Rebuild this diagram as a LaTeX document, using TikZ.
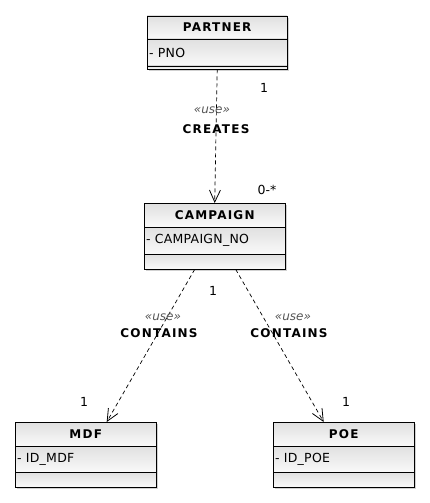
\documentclass[tikz,border=0pt]{standalone}
\usepackage{fontspec}
\setmainfont{DejaVu Sans}
\usetikzlibrary{arrows.meta,shadows,calc}
\definecolor{compTop}{HTML}{E0E0E0}
\definecolor{compBot}{HTML}{F9F9F9}
\definecolor{stereo}{HTML}{555555}
\newcommand\umlclass[9]{%
  \node[classframe, anchor=north west, minimum width=#4pt,
        minimum height=#5pt+#6pt+#7pt] (#1) at (#2,#3) {};
  \shade[top color=compTop, bottom color=compBot] (#2,#3) rectangle ++(#4,#5);
  \shade[top color=compTop, bottom color=compBot] (#2,#3+#5) rectangle ++(#4,#6);
  \shade[top color=compTop, bottom color=compBot] (#2,#3+#5+#6) rectangle ++(#4,#7);
  \draw[frameline] (#1.north west) rectangle (#1.south east);
  \draw[frameline] (#2,#3+#5) -- ++(#4,0);
  \draw[frameline] (#2,#3+#5+#6) -- ++(#4,0);
  \node[titletext] (#1-title) at ($(#1.north)+(0,#5/2)$) {#8};
  \node[attrtext, anchor=west] (#1-attr) at (#2+1,#3+#5+#6/2) {#9};
}
\tikzset{
  classframe/.style={draw=none, fill=compBot, inner sep=0pt,
    drop shadow={shadow xshift=2pt, shadow yshift=-2pt, opacity=0.18, fill=black}},
  frameline/.style={draw=black, line width=0.9pt},
  titletext/.style={font=\fontsize{12}{14}\selectfont\bfseries\addfontfeature{LetterSpace=10}, inner sep=0pt},
  attrtext/.style={font=\fontsize{12.5}{14}\selectfont\addfontfeature{LetterSpace=2}, inner sep=1pt},
  multtext/.style={font=\fontsize{12.5}{14}\selectfont, inner sep=0pt},
  stereotext/.style={font=\fontsize{12}{14}\selectfont\itshape, text=stereo, inner sep=0pt},
  reltext/.style={font=\fontsize{12}{14}\selectfont\bfseries\addfontfeature{LetterSpace=10}, inner sep=0pt},
  dep/.style={draw=black, line width=0.7pt, dash pattern=on 4pt off 3pt,
    -{Straight Barb[length=12pt, width=11pt, line width=0.8pt]}},
}
\begin{document}
\begin{tikzpicture}[x=1pt, y=-1pt]
  \fill[white] (0,0) rectangle (430,503);
  \useasboundingbox (0,0) rectangle (430,503);

  \umlclass{partner}{147}{16}{140}{23}{27}{3}{PARTNER}{- PNO}
  \umlclass{campaign}{144}{203}{141}{24}{27}{15}{CAMPAIGN}{- CAMPAIGN\_NO}
  \umlclass{mdf}{15}{422}{141}{24}{26}{15}{MDF}{- ID\_MDF}
  \umlclass{poe}{273}{422}{141}{24}{26}{15}{POE}{- ID\_POE}

  \draw[dep] (partner.south) -- (campaign.north);
  \draw[dep] ([xshift=-20pt]campaign.south) -- ([xshift=21pt]mdf.north);
  \draw[dep] ([xshift=21pt]campaign.south) -- ([xshift=-20pt]poe.north);

  \node[multtext] (m1) at (264,88) {1};
  \node[stereotext] (s1) at (212,110) {«use»};
  \node[reltext] (r1) at (216,129) {CREATES};
  \node[multtext] (m2) at (267,190) {0-*};

  \node[multtext] (m3) at (213,291) {1};
  \node[stereotext] (s2) at (163,317) {«use»};
  \node[reltext] (r2) at (159,333) {CONTAINS};
  \node[stereotext] (s3) at (293,317) {«use»};
  \node[reltext] (r3) at (289,333) {CONTAINS};
  \node[multtext] (m4) at (84,402) {1};
  \node[multtext] (m5) at (346,402) {1};
\end{tikzpicture}
\end{document}
